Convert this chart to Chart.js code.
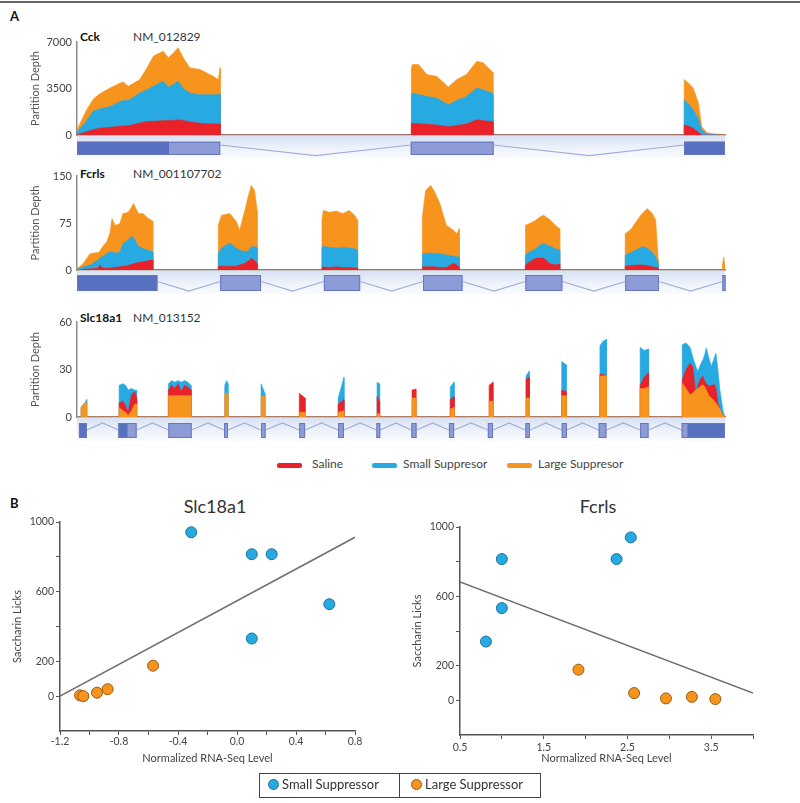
<!DOCTYPE html>
<html><head><meta charset="utf-8">
<script src="https://cdn.jsdelivr.net/npm/chart.js@4.4.0/dist/chart.umd.min.js"></script>
<style>
body{margin:0;background:#fff;}
#wrap{position:relative;width:800px;height:803px;overflow:hidden;background:#fff;font-family:Lato,'Open Sans',sans-serif;color:#333;}
canvas{position:absolute;}
.t{position:absolute;white-space:nowrap;line-height:1;}
.sw{position:absolute;height:5px;border-radius:2px;}
.dot{position:absolute;width:11px;height:11px;border-radius:50%;box-sizing:border-box;}
</style></head><body><div id="wrap">
<div style="position:absolute;left:0;top:1px;width:800px;height:2px;background:#666"></div>
<div class="t" style="left:10px;top:10px;font-weight:bold;font-size:13px;color:#111">A</div>
<div class="t" style="left:80px;top:31px;font-weight:bold;font-size:12px;color:#111">Cck</div>
<div class="t" style="left:133px;top:31px;font-size:12px;color:#333">NM_012829</div>
<div class="t" style="left:80px;top:168px;font-weight:bold;font-size:12px;color:#111">Fcrls</div>
<div class="t" style="left:133px;top:168px;font-size:12px;color:#333">NM_001107702</div>
<div class="t" style="left:80px;top:312px;font-weight:bold;font-size:12px;color:#111">Slc18a1</div>
<div class="t" style="left:133px;top:312px;font-size:12px;color:#333">NM_013152</div>
<canvas id="cck" width="745" height="130" style="left:0;top:30px"></canvas>
<canvas id="fcrls" width="745" height="132" style="left:0;top:164px"></canvas>
<canvas id="slc" width="745" height="135" style="left:0;top:310px"></canvas>
<div class="sw" style="left:277px;top:463px;width:25px;background:#e92129"></div>
<div class="t" style="left:312px;top:458px;font-size:12px;color:#444">Saline</div>
<div class="sw" style="left:372px;top:463px;width:25px;background:#27aae1"></div>
<div class="t" style="left:403px;top:458px;font-size:12px;color:#444">Small Suppresor</div>
<div class="sw" style="left:507px;top:463px;width:25px;background:#f7941e"></div>
<div class="t" style="left:538px;top:458px;font-size:12px;color:#444">Large Suppresor</div>
<div class="t" style="left:10px;top:497px;font-weight:bold;font-size:13px;color:#111">B</div>
<div class="t" style="left:115px;top:497px;width:200px;text-align:center;font-size:18px;color:#333">Slc18a1</div>
<div class="t" style="left:498px;top:497px;width:200px;text-align:center;font-size:18px;color:#333">Fcrls</div>
<canvas id="sc1" width="380" height="260" style="left:0;top:510px"></canvas>
<canvas id="sc2" width="380" height="260" style="left:400px;top:515px"></canvas>
<div style="position:absolute;left:259px;top:773px;width:280px;height:23px;border:1px solid #444;"></div>
<div style="position:absolute;left:399px;top:773px;width:1px;height:25px;background:#444;"></div>
<div class="dot" style="left:268px;top:779px;background:#27aae1;border:1px solid #1f6f99"></div>
<div class="t" style="left:282px;top:778px;font-size:13px;color:#333">Small Suppressor</div>
<div class="dot" style="left:411px;top:779px;background:#f7941e;border:1px solid #9a5a12"></div>
<div class="t" style="left:425px;top:778px;font-size:13px;color:#333">Large Suppressor</div>
</div>
<script>
// ---------- Panel A data (relative genomic position 0..1000, depth per exon segment) ----------
const cckPos = [
 [0,5,15,25,35,51,71,79,97,108,118,133,141,149,156,164,174,190,210,218,221],
 [516,518,527,540,555,573,586,601,617,627,640,642],
 [937,944,951,959,964,972,984,997,1000]
];
const cckLarge = [
 [400,900,1900,2700,3100,3540,4000,3660,4170,5060,5940,6310,5810,6190,6570,5810,5060,4930,4420,4170,5060],
 [5100,5310,5310,4550,4420,3610,4170,4550,5560,5430,4800,4700],
 [4170,3900,3540,2400,630,175,80,50,0]
];
const cckSmall = [
 [150,500,1100,1800,1950,2150,2600,2600,3160,3400,3660,4040,3610,3800,4040,3500,3160,3030,3030,3030,3100],
 [3100,3160,3050,2900,2780,2270,2600,2900,3540,3400,3160,3100],
 [2650,2300,1900,1200,380,75,30,0,0]
];
const cckSaline = [
 [0,100,250,400,510,580,680,700,900,1010,1040,1080,1090,1100,1140,1100,1000,890,830,830,850],
 [880,890,850,800,760,630,720,830,1140,1080,1010,1000],
 [760,650,510,200,0,0,0,0,0]
];
const cckExons = [[0,221],[515,643],[937,1000]];
const cckUTR = [[0,142],[937,1000]];

const fcrlsPos = [
 [0,5,10,20,25,33,35,40,46,51,54,59,66,71,79,84,87,95,102,110,117],
 [218,223,236,246,251,259,264,269,274,278],
 [378,380,390,400,410,420,428,433],
 [533,538,546,552,560,570,581,586,590],
 [692,700,708,715,720,730,738,745],
 [846,855,865,872,880,888,893,897],
 [996,998,1000]
];
const fcrlsLarge = [
 [3,6,11,26,27,28,30,38,45,60,82,71,74,90,92,100,106,90,90,82,78],
 [71.5,87.5,90,77,63.6,95,116.6,135,127,95],
 [79.5,95,92,94,90,95,88,79.5],
 [85,127,135,124.5,106,71.5,63.6,58,66],
 [71.5,75,79.5,85,87.5,80,71.5,66],
 [58,65,80,90,98,90,79.5,16],
 [8,21,5]
];
const fcrlsSmall = [
 [0,3,5,8,11,16,19,22,26,29,29,27,28,42,48,54,52,38,34,32,29],
 [26.5,35,43,34.5,32,29,30,37,37,36],
 [36,38,36,35,36,35,34,32],
 [26.5,26,27,26.5,26,24,22,21,21],
 [24,30,34,40,42.4,38,34,32],
 [24,28,33,37,35,28,21,10],
 [0,0,0]
];
const fcrlsSaline = [
 [0,0,1,2,2,3,8,3,3,3,4,4,5,6,7,9,10,12,13,15,16],
 [6,6,6,6,8,10.6,14,18.6,15,10],
 [4,5,4,5,4,4,3,3],
 [5,5,5,5,4,4,10.6,8,4],
 [8,14,18.6,19,19,10,8,9.5],
 [6.4,7,8,8,7,5,4,3],
 [0,0,0]
];
const fcrlsExons = [[0,124],[221,284],[381,437],[534,595],[692,749],[846,898],[996,1001]];
const fcrlsUTR = [[0,124]];

const slcPos = [
 [6,12,15],[65,71,75,79,84,89,92],[141,146,151,156,161,166,171,176],[228,231,233],[284,290],
 [343,352],[403,412],[463,467],[517,523],[576,582],[636,642],[693,698],[748,755],[807,812,817],[869,875,882],
 [934,940,946,948,950,955,958,962,966,969,971,976,979,984,986,989,992,997,1000]
];
const slcLarge = [
 [6,8,10],[6,4,3,1,4,8,8],[13.5,13.5,13.5,13.5,13.5,13.5,13.5,13.5],[15,15,15],[13,13],
 [3,3],[3,4],[2,2],[12,12],[5,6],[10,10],[12,12],[13.5,13.5],[25.7,26,26],[18,18,19],
 [21.5,18,14,14.5,15,17.3,18,19.5,20.4,19,17,13,12,10,8.8,7,5,1,0]
];
const slcSaline = [
 [0,0,0],[9,10,7,3,14,16,12],[17,20,18,21,16,20,19,17],[0,0,0],[0,0],
 [15,12],[8,11],[13,10],[17,17.7],[11,13],[20,22],[24,25],[17,16],[27,27,26],[20,25,28],
 [23.6,30,34,33,32,15,20,24,25.7,22.5,21,19.4,20,20.4,18,8.8,5,1,0]
];
const slcSmall = [
 [6,9,11],[20,21,20,17,18,17,17],[21,23,22,23,22,23,22,20],[20,23,21],[21,15],
 [0,0],[12,25],[22,21],[0,0],[19,22],[0,0],[26,29],[35,33],[45,48,49],[44,42,43],
 [45.7,46.8,44,41.5,38,32,28.8,33,36.2,40,43.6,36,32,38,40.4,30,17.3,4,0]
];
const slcExons = [[3,15],[64,92],[141,177],[227,233],[284,291],[343,352],[403,412],[462,468],[516,524],[574,582],[634,642],[692,699],[748,756],[805,817],[869,882],[933,1000]];
const slcUTR = [[3,15],[64,78],[942,1000]];

const depthTicksCck = [0,3500,7000], depthTicksFcrls = [0,75,150], depthTicksSlc = [0,30,60];

// ---------- Panel B data ----------
const slcSmallX = [-0.31,0.10,0.235,0.626,0.10];
const slcSmallY = [941,815,815,528,331];
const slcLargeX = [-1.064,-1.042,-0.949,-0.877,-0.569];
const slcLargeY = [5,0,20,40,175];
const slcFitX = [-1.2,0.8];
const slcFitY = [0,912];

const fcrSmallX = [1.0,2.54,2.37,1.0,0.81];
const fcrSmallY = [815,940,815,532,339];
const fcrLargeX = [1.915,2.58,2.96,3.27,3.55];
const fcrLargeY = [177,42,11,20,7];
const fcrFitX = [0.5,4.0];
const fcrFitY = [683,42];

const lickLabels = [0,200,600,1000];

// ---------- helpers ----------
const C = {saline:'#e92129', small:'#27aae1', large:'#f7941e'};
Chart.defaults.font.family = "Lato, 'Open Sans', sans-serif";

function buildSeries(pos, vals){
  const pts = [];
  pos.forEach((seg,i)=>{
    pts.push({x:seg[0],y:0});
    seg.forEach((p,j)=>pts.push({x:p,y:vals[i][j]}));
    pts.push({x:seg[seg.length-1],y:0});
  });
  return pts;
}

const geneModel = {
  id:'geneModel',
  afterDraw(chart, args, o){
    const {ctx, chartArea:ca, scales:{x}} = chart;
    const base = ca.bottom;
    const xl = x.getPixelForValue(x.min), xr = x.getPixelForValue(x.max);
    ctx.save();
    const g = ctx.createLinearGradient(0, base, 0, base+o.band);
    g.addColorStop(0,'rgba(205,218,240,0.85)');
    g.addColorStop(1,'rgba(235,241,250,0.35)');
    ctx.fillStyle = g;
    ctx.fillRect(xl, base+1, xr-xl, o.band);
    ctx.strokeStyle = '#a4acdb'; ctx.lineWidth = 1.2;
    const ex = o.exons;
    for(let i=0;i<ex.length-1;i++){
      const a = x.getPixelForValue(ex[i][1]), b = x.getPixelForValue(ex[i+1][0]);
      ctx.beginPath();
      ctx.moveTo(a, base+o.intronEdge);
      ctx.lineTo((a+b)/2, base+o.intronMid);
      ctx.lineTo(b, base+o.intronEdge);
      ctx.stroke();
    }
    ex.forEach(e=>{
      const a = x.getPixelForValue(e[0]), b = x.getPixelForValue(e[1]);
      ctx.fillStyle = '#8d9cd7';
      ctx.fillRect(a, base+o.top, b-a, o.h);
    });
    o.utr.forEach(e=>{
      const a = x.getPixelForValue(e[0]), b = x.getPixelForValue(e[1]);
      ctx.fillStyle = '#5870c0';
      ctx.fillRect(a, base+o.top, b-a, o.h);
    });
    ctx.strokeStyle = '#6677c2'; ctx.lineWidth = 1;
    ex.forEach(e=>{
      const a = x.getPixelForValue(e[0]), b = x.getPixelForValue(e[1]);
      ctx.strokeRect(a+0.5, base+o.top+0.5, b-a-1, o.h-1);
    });
    ctx.restore();
  }
};

function areaChart(id, ticks, series, gm, padBottom){
  return new Chart(document.getElementById(id), {
    type:'line',
    data:{datasets: series.map(s=>({label:s.label, data:s.data, fill:'origin', backgroundColor:s.color, borderColor:s.color, borderWidth:0.6, pointRadius:0, tension:0}))},
    options:{
      responsive:false, animation:false, events:[],
      layout:{padding:{top:12,right:20,bottom:padBottom,left:0}},
      plugins:{legend:{display:false}, tooltip:{enabled:false}, geneModel:gm},
      scales:{
        x:{type:'linear', min:0, max:1000, ticks:{display:false}, grid:{display:false,drawTicks:false}, border:{display:true,color:'#8c8c8c',width:1.5}},
        y:{type:'linear', min:ticks[0], max:ticks[ticks.length-1],
           afterBuildTicks(s){ s.ticks = ticks.map(v=>({value:v})); },
           ticks:{padding:5, color:'#444', font:{size:11}, callback:v=>String(v)},
           grid:{display:false, drawTicks:false}, border:{display:true,color:'#8c8c8c',width:1.5},
           title:{display:true, text:'Partition Depth', color:'#555', font:{size:11}, padding:{top:29,bottom:0}},
           afterFit(s){ s.width = 77; }}
      }
    },
    plugins:[geneModel]
  });
}

areaChart('cck', depthTicksCck, [
  {label:'Saline', data:buildSeries(cckPos,cckSaline), color:C.saline},
  {label:'Small Suppresor', data:buildSeries(cckPos,cckSmall), color:C.small},
  {label:'Large Suppresor', data:buildSeries(cckPos,cckLarge), color:C.large}
], {exons:cckExons, utr:cckUTR, top:6.7, h:13.3, intronEdge:10, intronMid:20.7, band:22}, 25);

areaChart('fcrls', depthTicksFcrls, [
  {label:'Saline', data:buildSeries(fcrlsPos,fcrlsSaline), color:C.saline},
  {label:'Small Suppresor', data:buildSeries(fcrlsPos,fcrlsSmall), color:C.small},
  {label:'Large Suppresor', data:buildSeries(fcrlsPos,fcrlsLarge), color:C.large}
], {exons:fcrlsExons, utr:fcrlsUTR, top:5, h:16, intronEdge:11.5, intronMid:21, band:23}, 26);

areaChart('slc', depthTicksSlc, [
  {label:'Large Suppresor', data:buildSeries(slcPos,slcLarge), color:C.large},
  {label:'Saline', data:buildSeries(slcPos,slcSaline), color:C.saline},
  {label:'Small Suppresor', data:buildSeries(slcPos,slcSmall), color:C.small}
], {exons:slcExons, utr:slcUTR, top:6, h:15, intronEdge:13, intronMid:6, band:23}, 28);

function zip(xs, ys){ return xs.map((v,i)=>({x:v, y:ys[i]})); }

function scatterChart(id, d){
  return new Chart(document.getElementById(id), {
    type:'scatter',
    data:{datasets:[
      {label:'Small Suppressor', data:zip(d.sx,d.sy), backgroundColor:C.small, borderColor:'#1f6f99', borderWidth:1, pointRadius:5.5},
      {label:'Large Suppressor', data:zip(d.lx,d.ly), backgroundColor:C.large, borderColor:'#9a5a12', borderWidth:1, pointRadius:5.5},
      {type:'line', label:'fit', data:zip(d.fx,d.fy), borderColor:'#707070', borderWidth:1.6, pointRadius:0, fill:false, tension:0}
    ]},
    options:{
      responsive:false, animation:false, events:[],
      layout:{padding:{top:12,right:d.padRight,bottom:d.padBottom,left:0}},
      plugins:{legend:{display:false}, tooltip:{enabled:false}},
      scales:{
        x:{type:'linear', min:d.xmin, max:d.xmax,
           ticks:{stepSize:d.xstep, autoSkip:false, maxRotation:0, color:'#444', font:{size:10.5}, padding:d.xpad, callback:d.xlab},
           grid:{drawOnChartArea:false, drawTicks:true, tickLength:4, color:'#555'},
           border:{display:true, color:'#555', width:1.5},
           title:{display:true, text:'Normalized RNA-Seq Level', color:'#444', font:{size:11}, padding:{top:0,bottom:0}},
           afterFit(s){ s.height = d.xh; }},
        y:{type:'linear', min:-200, max:1000,
           ticks:{stepSize:200, autoSkip:false, color:'#444', font:{size:10.5}, padding:2,
                  callback:v=>lickLabels.includes(Math.round(v)) ? String(Math.round(v)) : ''},
           grid:{drawOnChartArea:false, drawTicks:true, tickLength:4,
                 tickColor:c=>(c.tick && c.tick.value===-200) ? 'rgba(0,0,0,0)' : '#555'},
           border:{display:true, color:'#555', width:1.5},
           title:{display:true, text:'Saccharin Licks', color:'#444', font:{size:11}, padding:{top:11,bottom:0}},
           afterFit(s){ s.width = 60; }}
      }
    }
  });
}

scatterChart('sc1', {sx:slcSmallX, sy:slcSmallY, lx:slcLargeX, ly:slcLargeY, fx:slcFitX, fy:slcFitY,
  xmin:-1.2, xmax:0.8, xstep:0.2, xpad:0, xh:34, padRight:25, padBottom:5,
  xlab:v=>{const k=Math.round(v*10); return (k%4===0) ? (k/10).toFixed(1) : '';}});

scatterChart('sc2', {sx:fcrSmallX, sy:fcrSmallY, lx:fcrLargeX, ly:fcrLargeY, fx:fcrFitX, fy:fcrFitY,
  xmin:0.5, xmax:4.0, xstep:0.5, xpad:2, xh:30, padRight:27, padBottom:10,
  xlab:v=>{const k=Math.round(v*2); return (Math.abs(k%2)===1) ? (k/2).toFixed(1) : '';}});
</script>
</body></html>
